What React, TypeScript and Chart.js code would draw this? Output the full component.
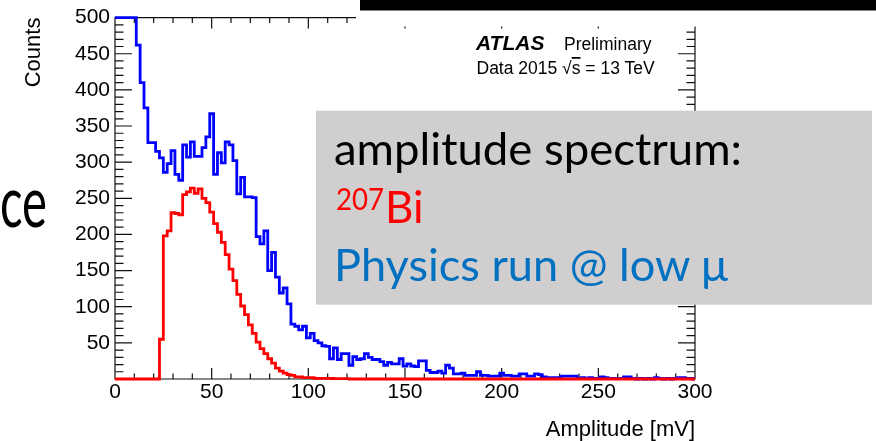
import React, { useEffect, useRef } from 'react';
import { Chart, registerables } from 'chart.js';

Chart.register(...registerables);

// ---- data (2 mV bins, centred on even mV values 0 … 300) ----
const BIN_WIDTH = 2;
const FIRST_BIN_CENTER = 0;

const PHYSICS_RUN_COUNTS = [
  500, 500, 500, 500, 500, 500, 462, 410, 375, 327,
  327, 315, 306, 286, 298, 316, 283, 275, 324, 307,
  328, 308, 308, 320, 335, 367, 283, 313, 299, 328,
  324, 302, 256, 279, 252, 252, 251, 197, 187, 205,
  150, 175, 141, 119, 126, 104, 76, 73, 68, 73,
  57, 63, 53, 50, 46, 45, 28, 43, 27, 35,
  35, 19, 31, 27, 28, 35, 30, 27, 27, 24,
  19, 23, 21, 21, 28, 18, 21, 18, 17, 25,
  25, 12, 9, 9, 11, 8, 19, 15, 7, 7,
  8, 5, 5, 5, 10, 5, 5, 4, 4, 4,
  8, 5, 5, 4, 4, 7, 7, 4, 4, 7,
  6, 3, 2, 2, 2, 2, 4, 4, 4, 4,
  1, 2, 1, 2, 1, 1, 3, 2, 1, 1,
  1, 1, 3, 3, 1, 0, 1, 0, 1, 0,
  2, 1, 0, 1, 0, 1, 2, 2, 1, 1,
  0,
];

const BI207_COUNTS = [
  0, 0, 0, 0, 0, 0, 0, 0, 0, 0,
  0, 0, 55, 198, 205, 230, 229, 227, 255, 259,
  264, 257, 263, 250, 244, 231, 215, 203, 189, 172,
  152, 136, 117, 101, 89, 75, 63, 51, 42, 35,
  28, 22, 15, 11, 8, 6, 5, 3, 3, 2,
  2, 2, 1, 1, 1, 1, 1, 0.5, 0.5, 0.5,
  0.5, 0, 0, 0, 0, 0, 0, 0, 0, 0,
  0, 0, 0, 0, 0, 0, 0, 0, 0, 0,
  0, 0, 0, 0, 0, 0, 0, 0, 0, 0,
  0, 0, 0, 0, 0, 0, 0, 0, 0, 0,
  0, 0, 0, 0, 0, 0, 0, 0, 0, 0,
  0, 0, 0, 0, 0, 0, 0, 0, 0, 0,
  0, 0, 0, 0, 0, 0, 0, 0, 0, 0,
  0, 0, 0, 0, 0, 0, 0, 0, 0, 0,
  0, 0, 0, 0, 0, 0, 0, 0, 0, 0,
  0,
];

const X_TICK_LABELS = [0, 50, 100, 150, 200, 250, 300];
const Y_TICK_LABELS = [50, 100, 150, 200, 250, 300, 350, 400, 450, 500];
const X_RANGE = [0, 300];
const Y_RANGE = [0, 500];
const X_MINOR_STEP = 10;
const Y_MINOR_STEP = 10;

const AXIS_FONT = 'Liberation Sans, Arial, sans-serif';

const toPoints = (counts: number[]) =>
  counts.map((c, i) => ({ x: FIRST_BIN_CENTER + i * BIN_WIDTH, y: c }));

// ROOT-style frame with inward ticks on all four sides
const rootFrame = {
  id: 'rootFrame',
  beforeDatasetsDraw(chart: any) {
    const { ctx, chartArea, scales } = chart;
    const { left, right, top, bottom } = chartArea;
    const xs = scales.x;
    const ys = scales.y;
    const majorX = new Set(X_TICK_LABELS);
    const majorY = new Set([0, ...Y_TICK_LABELS]);
    ctx.save();
    ctx.strokeStyle = '#111';
    ctx.lineWidth = 1.2;
    ctx.beginPath();
    ctx.rect(left, top, right - left, bottom - top);
    for (let v = Y_RANGE[0]; v <= Y_RANGE[1]; v += Y_MINOR_STEP) {
      const py = ys.getPixelForValue(v);
      const len = majorY.has(v) ? 17 : 8.5;
      ctx.moveTo(left, py);
      ctx.lineTo(left + len, py);
      ctx.moveTo(right, py);
      ctx.lineTo(right - len, py);
    }
    for (let v = X_RANGE[0]; v <= X_RANGE[1]; v += X_MINOR_STEP) {
      const px = xs.getPixelForValue(v);
      const len = majorX.has(v) ? 11 : 5.5;
      ctx.moveTo(px, bottom);
      ctx.lineTo(px, bottom - len);
      ctx.moveTo(px, top);
      ctx.lineTo(px, top + len);
    }
    ctx.stroke();
    ctx.restore();
  },
};

const histStyle = {
  stepped: 'middle' as const,
  borderWidth: 2.8,
  pointRadius: 0,
  fill: false,
  clip: 4,
  borderJoinStyle: 'miter' as const,
  borderCapStyle: 'butt' as const,
};

export default function App() {
  const canvasRef = useRef<HTMLCanvasElement | null>(null);

  useEffect(() => {
    if (!canvasRef.current) return;
    const chart = new Chart(canvasRef.current, {
      type: 'line',
      data: {
        datasets: [
          { label: '207Bi', data: toPoints(BI207_COUNTS), borderColor: '#ff0000', ...histStyle },
          { label: 'Physics run @ low μ', data: toPoints(PHYSICS_RUN_COUNTS), borderColor: '#0000ff', ...histStyle },
        ],
      },
      options: {
        animation: false,
        responsive: true,
        maintainAspectRatio: false,
        devicePixelRatio: 1,
        layout: { padding: { left: 0, top: 16, right: 181, bottom: 0 } },
        plugins: { legend: { display: false }, tooltip: { enabled: false } },
        scales: {
          x: {
            type: 'linear',
            min: X_RANGE[0],
            max: X_RANGE[1],
            grid: { display: false, drawTicks: false },
            border: { display: false },
            afterBuildTicks: (s: any) => {
              s.ticks = X_TICK_LABELS.map((v) => ({ value: v }));
            },
            afterFit: (s: any) => {
              s.height = 62;
            },
            ticks: {
              font: { family: AXIS_FONT, size: 21 },
              color: '#000',
              padding: 1,
              maxRotation: 0,
              autoSkip: false,
            },
            title: {
              display: true,
              text: 'Amplitude [mV]',
              align: 'end',
              color: '#000',
              font: { family: AXIS_FONT, size: 22, lineHeight: 1 },
              padding: { top: 0, bottom: 0 },
            },
          },
          y: {
            type: 'linear',
            min: Y_RANGE[0],
            max: Y_RANGE[1],
            grid: { display: false, drawTicks: false },
            border: { display: false },
            afterBuildTicks: (s: any) => {
              s.ticks = Y_TICK_LABELS.map((v) => ({ value: v }));
            },
            afterFit: (s: any) => {
              s.width = 115;
            },
            ticks: {
              font: { family: AXIS_FONT, size: 21 },
              color: '#000',
              padding: 5,
              autoSkip: false,
            },
            title: {
              display: true,
              text: 'Counts',
              align: 'end',
              color: '#000',
              font: { family: AXIS_FONT, size: 22, lineHeight: 1 },
              padding: { top: 23, bottom: 0 },
            },
          },
        },
      } as any,
      plugins: [rootFrame],
    });
    return () => chart.destroy();
  }, []);

  return (
    <div style={{ position: 'absolute', left: 0, top: 0, width: 876, height: 441, background: '#fff', overflow: 'hidden' }}>
      <div style={{ position: 'absolute', left: 0, top: 0, width: 876, height: 441 }}>
        <canvas ref={canvasRef} />
      </div>
      <svg width={876} height={441} style={{ position: 'absolute', left: 0, top: 0, pointerEvents: 'none' }}>
        <text x={0} y={227} fontFamily="Lato, sans-serif" fontSize={72} textLength={47} lengthAdjust="spacingAndGlyphs" fill="#000">ce</text>
        <rect x={360} y={0} width={516} height={10.7} fill="#000" />
        <rect x={356} y={10.7} width={520} height={15.8} fill="#fff" />
        <text x={476} y={50} fontFamily={AXIS_FONT} fontSize={21} fontWeight="bold" fontStyle="italic" fill="#000">ATLAS</text>
        <text x={564} y={50} fontFamily={AXIS_FONT} fontSize={17.5} fill="#000">Preliminary</text>
        <text x={476.5} y={74} fontFamily={AXIS_FONT} fontSize={17.5} fill="#000">
          Data 2015 √<tspan style={{ textDecoration: 'overline' }}>s</tspan> = 13 TeV
        </text>
        <rect x={316} y={110.7} width={556} height={194} fill="#d0cece" />
        <text x={334} y={165} fontFamily="Lato, sans-serif" fontSize={44} textLength={408} lengthAdjust="spacingAndGlyphs" fill="#000">amplitude spectrum:</text>
        <text x={336} y={210} fontFamily="Lato, sans-serif" fontSize={30} textLength={48} lengthAdjust="spacingAndGlyphs" fill="#ff0000">207</text>
        <text x={385} y={223} fontFamily="Lato, sans-serif" fontSize={44} fill="#ff0000">Bi</text>
        <text x={334} y={281} fontFamily="Lato, sans-serif" fontSize={44} textLength={394} lengthAdjust="spacingAndGlyphs" fill="#0070c0">Physics run @ low μ</text>
      </svg>
    </div>
  );
}
